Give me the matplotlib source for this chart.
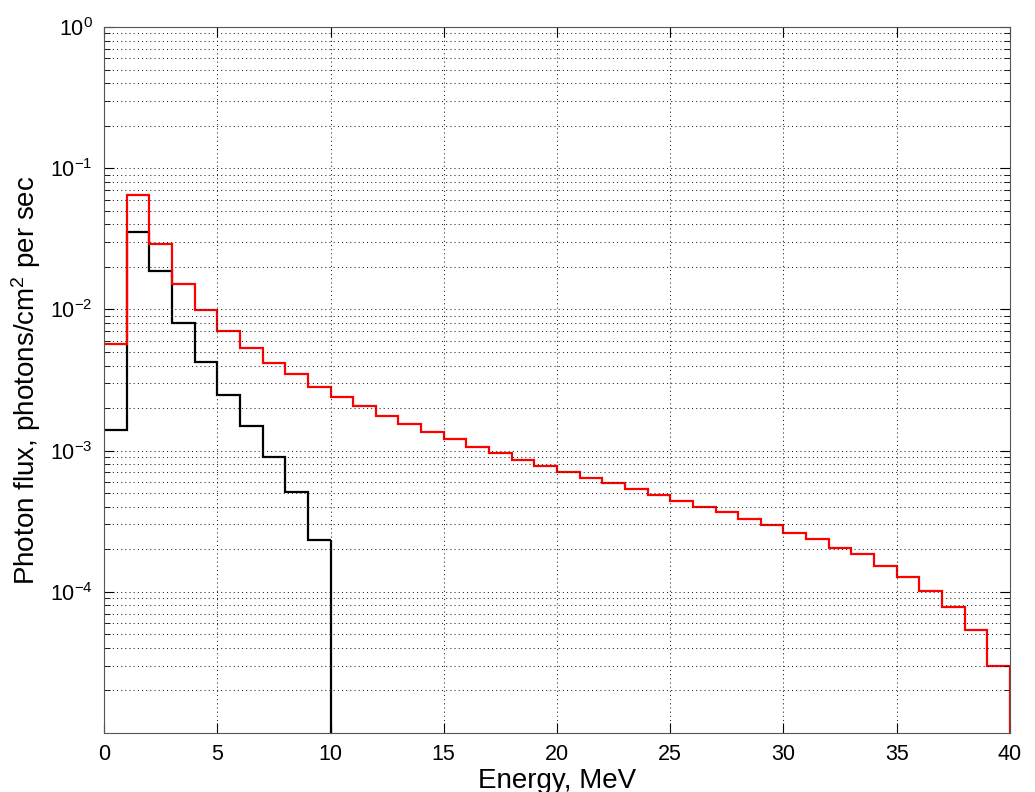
import matplotlib
matplotlib.use('Agg')
import matplotlib.pyplot as plt
import numpy as np
from matplotlib.ticker import FixedLocator, LogLocator, FuncFormatter, NullFormatter

plt.rcParams['font.family'] = ['Liberation Sans', 'DejaVu Sans']
plt.rcParams['mathtext.default'] = 'regular'

# bin edges in MeV (1 MeV bins)
red_edges = np.arange(0, 41)
black_edges = np.arange(0, 11)

# photon flux per bin
red_flux = [5.65e-3, 0.065, 0.0292, 0.0152, 0.00989, 0.00702, 0.00535, 0.00416, 0.00348, 0.00284,
            0.00239, 0.00207, 0.00177, 0.00155, 0.00136, 0.00120, 0.00106, 9.68e-4, 8.63e-4, 7.78e-4,
            7.09e-4, 6.44e-4, 5.86e-4, 5.32e-4, 4.85e-4, 4.40e-4, 4.01e-4, 3.67e-4, 3.30e-4, 2.95e-4,
            2.63e-4, 2.38e-4, 2.05e-4, 1.85e-4, 1.53e-4, 1.28e-4, 1.02e-4, 7.78e-5, 5.35e-5, 2.99e-5]
black_flux = [1.40e-3, 0.0353, 0.0187, 0.00796, 0.00423, 0.00246, 0.00150, 9.06e-4, 5.12e-4, 2.32e-4]

y_bottom = 1e-5

fig = plt.figure(figsize=(10.35, 7.92), dpi=100)
ax = fig.add_axes([0.1005, 0.0745, 0.8753, 0.8914])
ax.set_yscale('log')

ax.stairs(black_flux, black_edges, color='black', lw=1.6, baseline=None)
ax.vlines(black_edges[-1], y_bottom, black_flux[-1], color='black', lw=1.6)
ax.stairs(red_flux, red_edges, color='red', lw=1.6, baseline=None)
ax.vlines(red_edges[-1], y_bottom, red_flux[-1], color='red', lw=1.6)

ax.set_xlim(0, 40)
ax.set_ylim(y_bottom, 1)
ax.set_xticks(np.arange(0, 41, 5))
ax.yaxis.set_major_locator(FixedLocator([1e-4, 1e-3, 1e-2, 1e-1, 1]))
ax.yaxis.set_minor_locator(LogLocator(base=10, subs=np.arange(2, 10), numticks=20))
ax.yaxis.set_minor_formatter(NullFormatter())
ax.yaxis.set_major_formatter(FuncFormatter(lambda v, p: '$10^{%d}$' % round(np.log10(v))))

grid_style = dict(color='#222222', ls=(0, (1, 3)), lw=0.75)
ax.grid(True, which='major', axis='both', **grid_style)
ax.grid(True, which='minor', axis='y', **grid_style)
ax.tick_params(which='both', direction='in', top=True, right=True, labelsize=15.5, pad=8)
ax.tick_params(which='major', length=7)
ax.tick_params(which='minor', length=4)
for s in ax.spines.values():
    s.set_color('#555555')

ax.set_xlabel('Energy, MeV', fontsize=20, labelpad=2)
ax.set_ylabel('Photon flux, photons/cm$^2$ per sec', fontsize=20, labelpad=5)

fig.savefig('out.png', dpi=100)
